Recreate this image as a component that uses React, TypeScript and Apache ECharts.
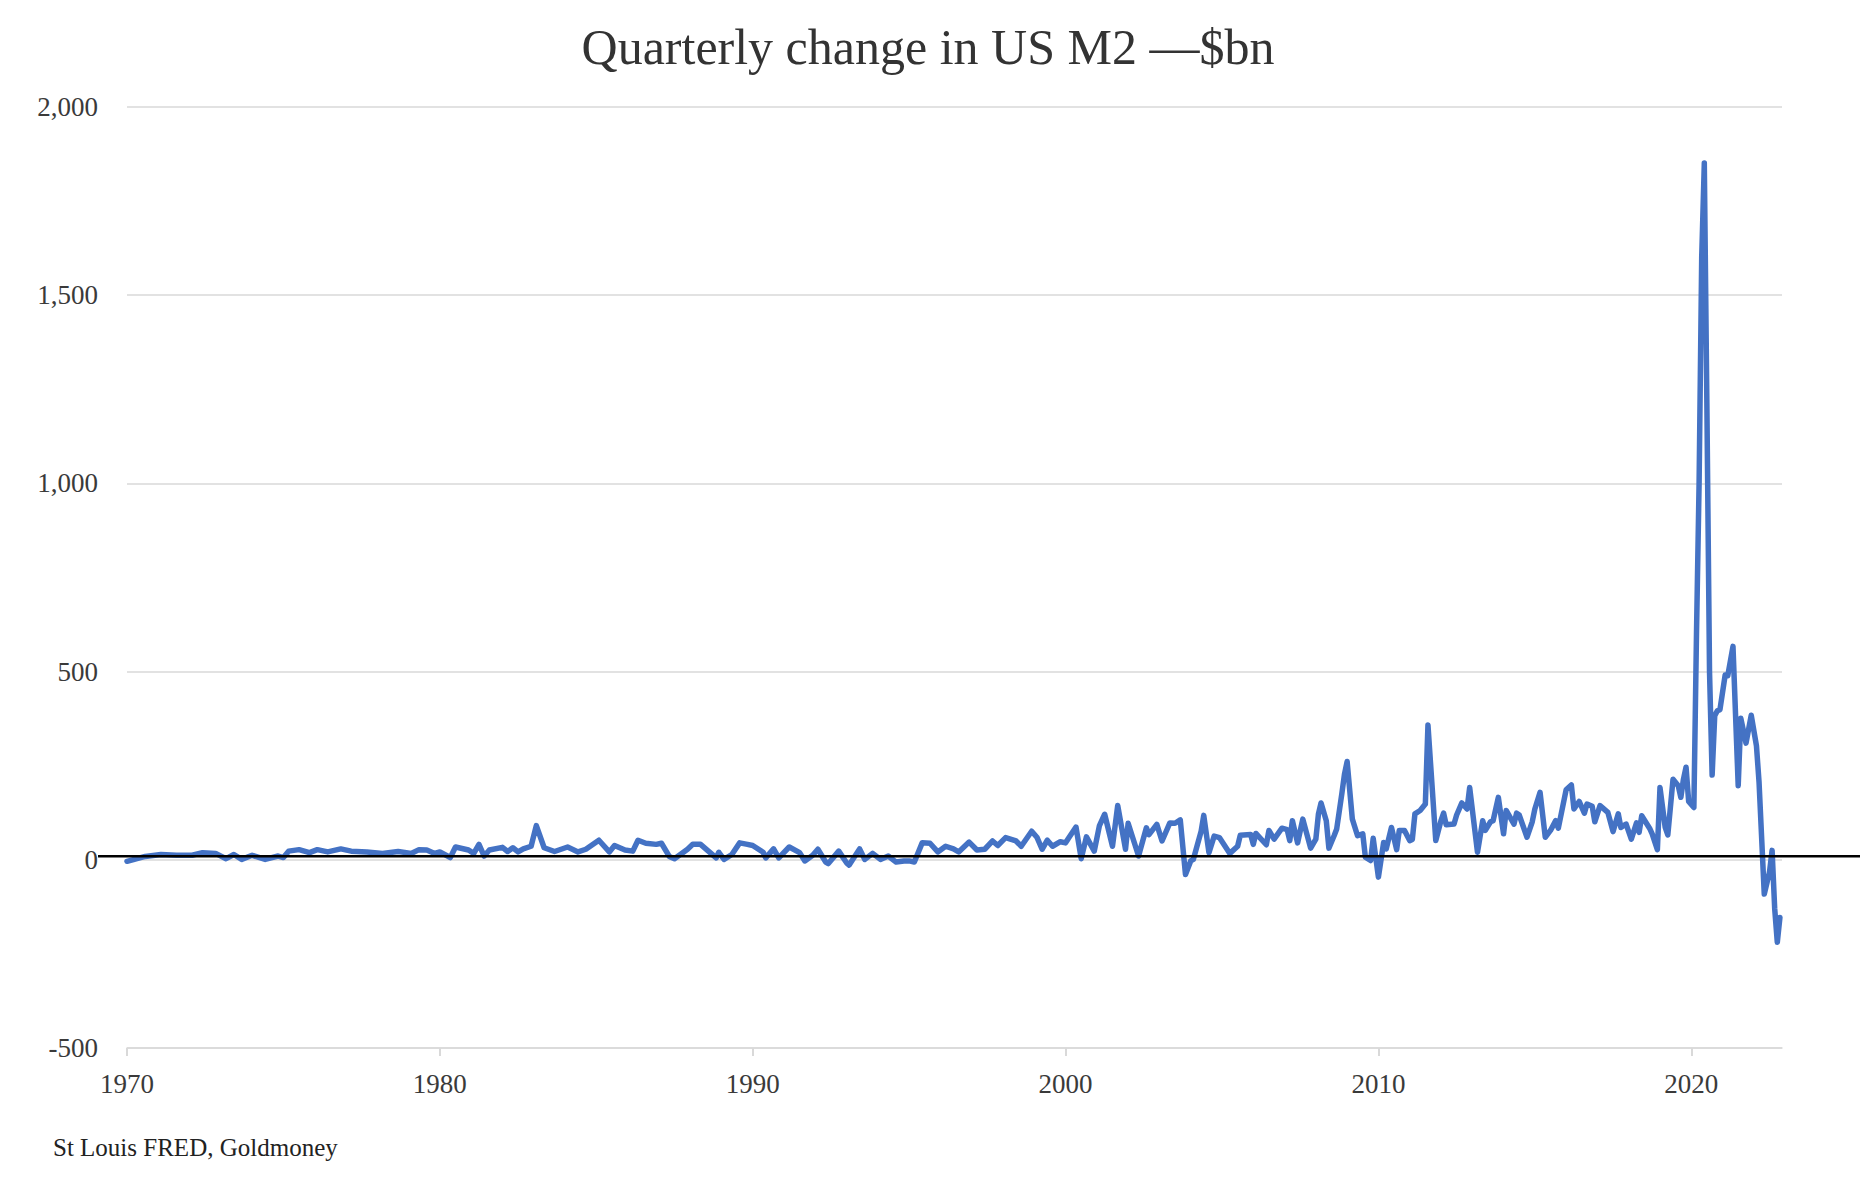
import React, { useEffect, useRef } from "react";
import * as echarts from "echarts";

const chartTitle = "Quarterly change in US M2 —$bn";
const sourceText = "St Louis FRED, Goldmoney";

const xTickYears = [1970, 1980, 1990, 2000, 2010, 2020];
const yTicks = [-500, 0, 500, 1000, 1500, 2000];

const months = [
  "1970-01", "1970-08", "1971-02", "1971-08", "1972-02", "1972-06", "1972-11", "1973-03", "1973-06", "1973-09",
  "1974-01", "1974-06", "1974-11", "1975-01", "1975-03", "1975-07", "1975-11", "1976-02", "1976-06", "1976-11",
  "1977-03", "1977-09", "1978-03", "1978-09", "1979-02", "1979-05", "1979-08", "1979-11", "1980-01", "1980-05",
  "1980-07", "1980-12", "1981-02", "1981-04", "1981-06", "1981-08", "1982-01", "1982-03", "1982-05", "1982-07",
  "1982-09", "1982-12", "1983-02", "1983-05", "1983-09", "1984-02", "1984-06", "1984-09", "1985-02", "1985-06",
  "1985-08", "1985-12", "1986-03", "1986-05", "1986-08", "1986-12", "1987-02", "1987-05", "1987-07", "1987-12",
  "1988-02", "1988-05", "1988-08", "1988-11", "1988-12", "1989-02", "1989-05", "1989-08", "1989-11", "1990-01",
  "1990-05", "1990-06", "1990-09", "1990-11", "1991-03", "1991-07", "1991-09", "1991-12", "1992-02", "1992-05",
  "1992-06", "1992-10", "1993-01", "1993-02", "1993-06", "1993-08", "1993-11", "1994-02", "1994-05", "1994-08",
  "1994-11", "1995-01", "1995-03", "1995-06", "1995-09", "1995-12", "1996-03", "1996-06", "1996-08", "1996-12",
  "1997-03", "1997-06", "1997-09", "1997-11", "1998-02", "1998-06", "1998-08", "1998-12", "1999-02", "1999-04",
  "1999-06", "1999-08", "1999-11", "2000-01", "2000-02", "2000-05", "2000-07", "2000-09", "2000-12", "2001-02",
  "2001-04", "2001-07", "2001-09", "2001-12", "2002-01", "2002-05", "2002-08", "2002-09", "2002-12", "2003-02",
  "2003-05", "2003-07", "2003-09", "2003-11", "2004-01", "2004-02", "2004-05", "2004-06", "2004-08", "2004-10",
  "2004-12", "2005-04", "2005-07", "2005-08", "2005-12", "2006-01", "2006-02", "2006-06", "2006-07", "2006-09",
  "2006-12", "2007-02", "2007-03", "2007-04", "2007-06", "2007-08", "2007-11", "2008-01", "2008-02", "2008-03",
  "2008-05", "2008-06", "2008-08", "2008-09", "2008-11", "2008-12", "2009-01", "2009-03", "2009-05", "2009-07",
  "2009-08", "2009-10", "2009-11", "2010-01", "2010-03", "2010-04", "2010-06", "2010-08", "2010-09", "2010-11",
  "2011-01", "2011-02", "2011-03", "2011-05", "2011-07", "2011-08", "2011-11", "2012-01", "2012-02", "2012-03",
  "2012-06", "2012-07", "2012-09", "2012-11", "2012-12", "2013-03", "2013-05", "2013-06", "2013-08", "2013-09",
  "2013-11", "2014-01", "2014-02", "2014-05", "2014-06", "2014-07", "2014-10", "2014-12", "2015-01", "2015-03",
  "2015-05", "2015-07", "2015-09", "2015-10", "2016-01", "2016-03", "2016-04", "2016-06", "2016-08", "2016-09",
  "2016-11", "2016-12", "2017-02", "2017-05", "2017-07", "2017-09", "2017-10", "2017-12", "2018-02", "2018-04",
  "2018-05", "2018-06", "2018-09", "2018-10", "2018-12", "2019-01", "2019-03", "2019-04", "2019-06", "2019-08",
  "2019-09", "2019-10", "2019-11", "2019-12", "2020-02", "2020-03", "2020-04", "2020-05", "2020-06", "2020-07",
  "2020-08", "2020-09", "2020-10", "2020-11", "2020-12", "2021-02", "2021-03", "2021-05", "2021-07", "2021-08",
  "2021-10", "2021-12", "2022-02", "2022-03", "2022-05", "2022-07", "2022-08", "2022-09", "2022-10", "2022-11",
];

const values = [
  -4, 9, 14, 12, 12, 19, 17, 3, 14, 1,
  12, 1, 10, 6, 23, 27, 19, 27, 21, 29,
  23, 21, 17, 22, 17, 27, 26, 17, 21, 6,
  34, 26, 17, 41, 10, 26, 33, 22, 32, 21,
  29, 36, 91, 32, 22, 34, 21, 28, 52, 21,
  38, 26, 23, 52, 44, 41, 44, 9, 3, 28,
  41, 41, 23, 5, 20, 1, 14, 45, 41, 38,
  20, 5, 29, 5, 34, 19, -3, 12, 28, -6,
  -10, 23, -8, -14, 29, 1, 17, 1, 10, -6,
  -3, -3, -6, 45, 44, 21, 36, 29, 21, 47,
  26, 28, 50, 38, 59, 50, 36, 76, 60, 28,
  52, 36, 48, 45, 56, 87, 3, 61, 23, 91,
  121, 36, 144, 28, 97, 10, 85, 67, 94, 50,
  98, 97, 106, -39, -3, 1, 76, 118, 19, 63,
  59, 17, 36, 65, 67, 41, 70, 40, 78, 55,
  84, 80, 51, 104, 45, 108, 31, 55, 122, 151,
  104, 31, 64, 82, 177, 228, 261, 108, 64, 69,
  7, -2, 57, -46, 46, 29, 86, 27, 78, 78,
  51, 54, 122, 131, 148, 358, 51, 104, 124, 93,
  95, 119, 151, 135, 192, 20, 104, 78, 101, 104,
  166, 69, 131, 95, 124, 119, 60, 101, 135, 179,
  60, 78, 104, 84, 186, 199, 135, 155, 124, 148,
  142, 101, 144, 126, 75, 122, 86, 95, 55, 98,
  73, 117, 84, 69, 27, 192, 86, 66, 214, 197,
  166, 214, 246, 155, 139, 600, 1000, 1600, 1851, 1200,
  500, 225, 383, 396, 399, 491, 489, 567, 197, 376,
  310, 384, 303, 206, -91, -33, 25, -130, -219, -153,
];

const FONT = "'Liberation Serif', 'Times New Roman', serif";
const TEXT = "#3a3a3a";
const GRID = "#d9d9d9";

export default function App() {
  const ref = useRef<HTMLDivElement>(null);

  useEffect(() => {
    document.body.style.margin = "0";
    const chart = echarts.init(ref.current as HTMLDivElement, null, { renderer: "svg" });
    const data = months.map((m, i) => {
      const [y, mo] = m.split("-").map(Number);
      return [y + (mo - 1) / 12, values[i]];
    });

    chart.setOption({
      animation: false,
      grid: { left: 127, right: 78, top: 107, bottom: 136, containLabel: false },
      xAxis: {
        type: "value",
        min: 1970,
        max: 2022.9,
        splitLine: { show: false },
        axisLine: { show: true, onZero: false, lineStyle: { color: GRID, width: 1.5 } },
        axisTick: {
          show: true,
          length: 8,
          customValues: xTickYears,
          lineStyle: { color: GRID, width: 2 },
        },
        axisLabel: {
          customValues: xTickYears,
          formatter: (v: number) => String(Math.round(v)),
          margin: 22,
          fontSize: 27,
          fontFamily: FONT,
          color: TEXT,
        },
      },
      yAxis: {
        type: "value",
        min: yTicks[0],
        max: yTicks[yTicks.length - 1],
        interval: 500,
        axisLine: { show: false },
        axisTick: { show: false },
        splitLine: { show: true, lineStyle: { color: GRID, width: 1.5 } },
        axisLabel: {
          margin: 29,
          fontSize: 27,
          fontFamily: FONT,
          color: TEXT,
          formatter: (v: number) => v.toLocaleString("en-US"),
        },
      },
      series: [
        {
          type: "line",
          data,
          symbol: "none",
          showSymbol: false,
          lineStyle: { color: "#4472C4", width: 5.5, cap: "round", join: "round" },
          z: 2,
        },
      ],
    });

    const y0 = chart.convertToPixel({ yAxisIndex: 0 }, 0) as number;
    chart.setOption({
      graphic: [
        {
          type: "text",
          id: "title",
          x: 928,
          y: 47,
          style: {
            text: chartTitle,
            fontSize: 50,
            fontFamily: FONT,
            fill: "#333333",
            textAlign: "center",
            textVerticalAlign: "middle",
          },
        },
        {
          type: "text",
          id: "source",
          x: 53,
          y: 1147,
          style: {
            text: sourceText,
            fontSize: 25,
            fontFamily: FONT,
            fill: "#222222",
            textAlign: "left",
            textVerticalAlign: "middle",
          },
        },
        {
          type: "line",
          id: "zero",
          z: 100,
          shape: { x1: 98, y1: y0 - 3.5, x2: 1860, y2: y0 - 3.5 },
          style: { stroke: "#000000", lineWidth: 2.5 },
        },
      ],
    });

    return () => chart.dispose();
  }, []);

  return <div ref={ref} style={{ width: 1860, height: 1184 }} />;
}
